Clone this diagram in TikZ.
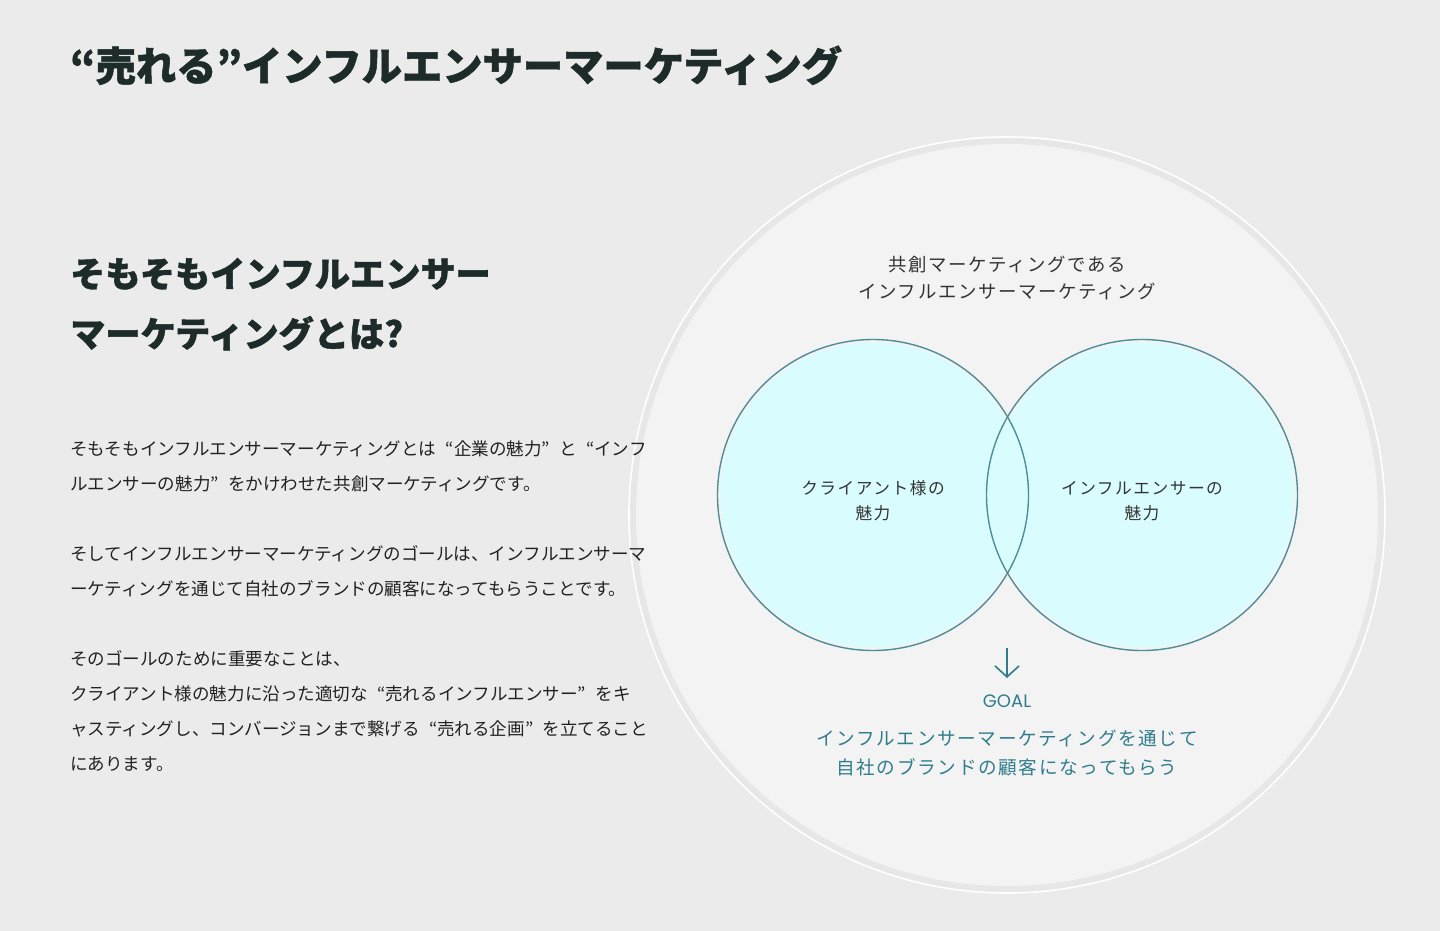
\documentclass[tikz,border=0pt]{standalone}
\usepackage{fontspec}
\usetikzlibrary{arrows.meta}
\newfontfamily\jp{Noto Sans CJK JP}[BoldFeatures={FakeBold=1.2}]
\newfontfamily\jpsp{Noto Sans CJK JP}[LetterSpace=9]
\newfontfamily\goalfont{Poppins}
\newcommand\oqt{\makebox[1em][r]{“}}
\newcommand\cqt{\makebox[1em][l]{”}}
\definecolor{bgc}{HTML}{EBEBEB}
\definecolor{ringc}{HTML}{E7E7E7}
\definecolor{innerc}{HTML}{F3F3F3}
\definecolor{titlec}{HTML}{1D2B2B}
\definecolor{bodyc}{HTML}{222222}
\definecolor{labelc}{HTML}{333333}
\definecolor{tealc}{HTML}{4C8F9B}
\definecolor{cyanc}{HTML}{D9FDFE}
\definecolor{goalc}{HTML}{2F7D8B}
\tikzset{
  titletxt/.style={anchor=base west, inner sep=0pt, text=titlec, font={\jp\bfseries\fontsize{40.3}{40.3}\selectfont}},
  headtxt/.style={anchor=base west, inner sep=0pt, text=titlec, font={\jp\bfseries\fontsize{35.2}{35.2}\selectfont}},
  bodytxt/.style={anchor=base west, inner sep=0pt, text=bodyc, font={\jp\fontsize{17.55}{17.55}\selectfont}},
  circtxt/.style={anchor=base, inner sep=0pt, text=labelc, font={\jpsp\fontsize{18.4}{18.4}\selectfont}},
  lbltxt/.style={anchor=base, inner sep=0pt, text=labelc, font={\jpsp\fontsize{16.7}{16.7}\selectfont}},
  goaltxt/.style={anchor=base, inner sep=0pt, text=goalc, font={\jpsp\fontsize{18.6}{18.6}\selectfont}},
  venn/.style={circle, minimum size=311pt, inner sep=0pt, draw=tealc, line width=1.4pt},
}
\begin{document}
\begin{tikzpicture}[x=1pt,y=-1pt]
\fill[bgc] (0,0) rectangle (1440,931);
\useasboundingbox (0,0) rectangle (1440,931);
% big circle
\fill[ringc] (1007,515) circle[radius=378];
\fill[innerc] (1007,515) circle[radius=371];
\draw[white, line width=1.6pt] (1007,515) circle[radius=378];
% title
\node[titletxt] (title) at (70,81) {“売れる”インフルエンサーマーケティング};
\node[headtxt] (h1) at (70,287) {そもそもインフルエンサー};
\node[headtxt] (h2) at (70,347) {マーケティングとは?};
% body
\node[bodytxt] (b1) at (70,455.6) {そもそもインフルエンサーマーケティングとは\oqt 企業の魅力\cqt と\oqt インフ};
\node[bodytxt] (b2) at (70,490.6) {ルエンサーの魅力\cqt をかけわせた共創マーケティングです。};
\node[bodytxt] (b3) at (70,560.6) {そしてインフルエンサーマーケティングのゴールは、インフルエンサーマ};
\node[bodytxt] (b4) at (70,595.6) {ーケティングを通じて自社のブランドの顧客になってもらうことです。};
\node[bodytxt] (b5) at (70,665.6) {そのゴールのために重要なことは、};
\node[bodytxt] (b6) at (70,700.6) {クライアント様の魅力に沿った適切な\oqt 売れるインフルエンサー\cqt をキ};
\node[bodytxt] (b7) at (70,735.6) {ャスティングし、コンバージョンまで繋げる\oqt 売れる企画\cqt を立てること};
\node[bodytxt] (b8) at (70,770.6) {にあります。};
% venn
\fill[cyanc] (873,495) circle[radius=152.5];
\fill[cyanc] (1142,495) circle[radius=152.5];
\node[venn] (cl) at (873,495) {};
\node[venn] (cr) at (1142,495) {};
\node[circtxt] (c1) at (1007,271) {共創マーケティングである};
\node[circtxt] (c2) at (1007,298) {インフルエンサーマーケティング};
\node[lbltxt] (l1) at (873,494) {クライアント様の};
\node[lbltxt] (l2) at (873,519) {魅力};
\node[lbltxt] (r1) at (1142,494) {インフルエンサーの};
\node[lbltxt] (r2) at (1142,519) {魅力};
% goal
\coordinate (atop) at (1007,648);
\coordinate (abot) at (1007,678);
\draw[goalc, line width=1.6pt, -{Straight Barb[length=11pt,width=24pt,line width=1.6pt]}] (atop) -- (abot);
\node[anchor=base, inner sep=0pt, text=goalc, font={\goalfont\fontsize{18}{18}\selectfont}] (goal) at (1007,707) {GOAL};
\node[goaltxt] (g1) at (1007,745.5) {インフルエンサーマーケティングを通じて};
\node[goaltxt] (g2) at (1007,774.5) {自社のブランドの顧客になってもらう};
\end{tikzpicture}
\end{document}
